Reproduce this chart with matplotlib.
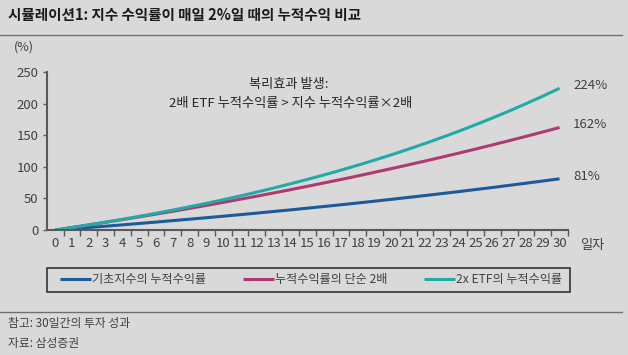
import matplotlib
matplotlib.use('Agg')
import matplotlib.pyplot as plt
from matplotlib.ticker import MultipleLocator, FixedLocator
from matplotlib.patches import Rectangle

plt.rcParams['font.family'] = ['Noto Sans CJK KR', 'DejaVu Sans']

# 일자 0~30, 누적수익률(%)
days = list(range(31))
index_ret = [0, 2.0, 4.0, 6.1, 8.2, 10.4, 12.6, 14.9, 17.2, 19.5, 21.9,
             24.3, 26.8, 29.4, 31.9, 34.6, 37.3, 40.0, 42.8, 45.7, 48.6,
             51.6, 54.6, 57.7, 60.8, 64.1, 67.3, 70.7, 74.1, 77.6, 81.1]
simple_2x = [0, 4.0, 8.1, 12.2, 16.5, 20.8, 25.2, 29.7, 34.3, 39.0, 43.8,
             48.7, 53.6, 58.7, 63.9, 69.2, 74.6, 80.0, 85.6, 91.4, 97.2,
             103.1, 109.2, 115.4, 121.7, 128.1, 134.7, 141.4, 148.2, 155.2, 162.3]
etf_2x = [0, 4.0, 8.2, 12.5, 17.0, 21.7, 26.5, 31.6, 36.9, 42.3, 48.0,
          53.9, 60.1, 66.5, 73.2, 80.1, 87.3, 94.8, 102.6, 110.7, 119.1,
          127.9, 137.0, 146.5, 156.3, 166.6, 177.3, 188.3, 199.9, 211.9, 224.3]
end_labels = ['81%', '162%', '224%']
names = ['기초지수의 누적수익률', '누적수익률의 단순 2배', '2x ETF의 누적수익률']
colors = ['#1c5a9a', '#b03a70', '#22aaa6']

bg = '#d9d9d9'
axis_c = '#595959'
txt_c = '#404040'

fig = plt.figure(figsize=(6.28, 3.55), dpi=100, facecolor=bg)
ax = fig.add_axes([0.0744, 0.352, 0.83, 0.445], facecolor=bg)

series = [index_ret, simple_2x, etf_2x]
for s, c, n in zip(series, colors, names):
    ax.plot(days, s, color=c, lw=2.2, label=n, solid_capstyle='butt')

ax.set_xlim(-0.5, 30.5)
ax.set_ylim(0, 250)
ax.yaxis.set_major_locator(MultipleLocator(50))
ax.xaxis.set_major_locator(FixedLocator(days))
ax.xaxis.set_minor_locator(FixedLocator([d + 0.5 for d in days]))
ax.tick_params(axis='x', which='major', length=0, pad=5, labelsize=9.5, labelcolor=txt_c)
ax.tick_params(axis='x', which='minor', length=4, width=1, color=axis_c, direction='out')
ax.tick_params(axis='y', length=3, width=1, color=axis_c, labelsize=9.5, labelcolor=txt_c, pad=3)
ax.set_xticklabels([str(d) for d in days])

for sp in ['top', 'right']:
    ax.spines[sp].set_visible(False)
for sp in ['left', 'bottom']:
    ax.spines[sp].set_color(axis_c)
    ax.spines[sp].set_linewidth(1.5)

for s, lab in zip(series, end_labels):
    ax.text(30.8, s[-1] + 4, lab, fontsize=9.5, color=txt_c, va='center', ha='left', clip_on=False)

ax.text(13.9, 231, '복리효과 발생:', fontsize=9.5, color='#262626', ha='center', va='center')
ax.text(14.0, 200, '2배 ETF 누적수익률 > 지수 누적수익률×2배', fontsize=9.5, color='#262626',
        ha='center', va='center')

fig.text(0.924, 1 - 245 / 355, '일자', fontsize=9.5, color=txt_c, ha='left', va='center')
fig.text(0.022, 1 - 47 / 355, '(%)', fontsize=9, color=txt_c, ha='left', va='center')

# title and rules
fig.text(0.013, 1 - 15 / 355, '시뮬레이션1: 지수 수익률이 매일 2%일 때의 누적수익 비교',
         fontsize=10.5, fontweight='bold', color='#1a1a1a', ha='left', va='center')
fig.add_artist(plt.Line2D([0, 0.99], [1 - 35 / 355, 1 - 35 / 355], color='#6f6f6f', lw=1))
fig.add_artist(plt.Line2D([0, 0.99], [1 - 312 / 355, 1 - 312 / 355], color='#6f6f6f', lw=1))

# legend box
fig.add_artist(Rectangle((47 / 628, 1 - 292 / 355), 523 / 628, 24 / 355,
                         transform=fig.transFigure, facecolor='none',
                         edgecolor='#333333', lw=1.2))
leg = fig.legend(loc='center', bbox_to_anchor=(311 / 628, 1 - 280 / 355), ncol=3,
                 frameon=False, fontsize=8.7, handlelength=2.6, columnspacing=3.0,
                 handletextpad=0.1)
for t in leg.get_texts():
    t.set_color(txt_c)

fig.text(0.013, 1 - 324 / 355, '참고: 30일간의 투자 성과', fontsize=8.5, color=txt_c, ha='left', va='center')
fig.text(0.013, 1 - 344 / 355, '자료: 삼성증권', fontsize=8.5, color=txt_c, ha='left', va='center')

fig.savefig('out.png', dpi=100, facecolor=bg)
